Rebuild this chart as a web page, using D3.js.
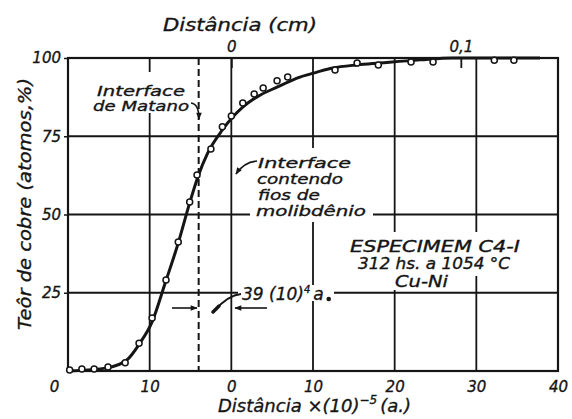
<!DOCTYPE html>
<html>
<head>
<meta charset="utf-8">
<script src="https://cdn.jsdelivr.net/npm/d3@7"></script>
<style>
  body { margin: 0; background: #fff; }
  text { font-family: "DejaVu Sans", sans-serif; font-style: italic; fill: #151515; stroke: #151515; stroke-width: 0.35px; }
</style>
</head>
<body>
<div id="chart"></div>
<script>
// data
var pointX = [-19.8, -18.3, -16.8, -15.1, -13.0, -11.3, -9.7, -8.0, -6.5, -5.1, -4.2, -2.5, -1.1, 0.0, 1.4, 2.8, 3.9, 5.6, 6.9, 12.7, 15.4, 18.0, 22.0, 24.7, 32.2, 34.6];
var pointY = [0.3, 0.6, 0.6, 1.3, 2.6, 8.9, 16.9, 29.1, 41.2, 54.0, 62.6, 70.9, 78.0, 81.5, 85.6, 88.5, 90.4, 92.7, 93.9, 96.2, 98.4, 97.8, 98.7, 98.7, 99.3, 99.3];
var curveX = [-19.8, -15.2, -12.8, -11.2, -9.7, -8.1, -6.5, -5.1, -4.1, -2.9, -1.1, 0.2, 1.4, 3.1, 5.6, 8.4, 10.5, 12.4, 15.4, 18.2, 23.1, 27.1, 37.8];
var curveY = [0, 1.0, 3.5, 8.9, 15.7, 28.1, 40.9, 53.7, 62.0, 69.6, 77.0, 81.2, 84.3, 87.5, 90.7, 93.9, 95.5, 96.8, 97.8, 98.4, 99.4, 100, 100];

var xTicks = [-20, -10, 0, 10, 20, 30, 40];
var xTickLabels = ["0", "10", "0", "10", "20", "30", "40"];
var yTicks = [25, 50, 75, 100];
var yTickLabels = ["25", "50", "75", "100"];
var topTicks = [0, 0.1];
var topTickLabels = ["0", "0,1"];
var xGrid = [-10, 0, 10, 20, 30];
var yGrid = [25, 50, 75];
var matanoX = -4.0;
var cmAtTenth = 28.1; // where 0,1 cm falls on the lower scale

var svgWidth = 572;
var svgHeight = 419;
var margin = { top: 58, right: 14, bottom: 48, left: 68 };
var width = svgWidth - margin.left - margin.right;
var height = svgHeight - margin.top - margin.bottom;
var ink = "#151515";

var svg = d3.select("#chart").append("svg")
  .attr("width", svgWidth)
  .attr("height", svgHeight);

svg.append("rect").attr("width", svgWidth).attr("height", svgHeight).attr("fill", "#fff");

var defs = svg.append("defs");
defs.append("marker")
  .attr("id", "head")
  .attr("viewBox", "0 0 10 10")
  .attr("refX", 9).attr("refY", 5)
  .attr("markerWidth", 9).attr("markerHeight", 7)
  .attr("markerUnits", "userSpaceOnUse")
  .attr("orient", "auto")
  .append("path").attr("d", "M0,1 L10,5 L0,9 Z").attr("fill", ink);

var chartGroup = svg.append("g")
  .attr("transform", `translate(${margin.left}, ${margin.top})`);

var xScale = d3.scaleLinear().domain([-20, 40]).range([0, width]);
var yScale = d3.scaleLinear().domain([0, 100]).range([height, 0]);
var topScale = d3.scaleLinear().domain([0, 0.1]).range([xScale(0), xScale(cmAtTenth)]);

// grid
chartGroup.selectAll(".vgrid")
  .data(xGrid)
  .enter()
  .append("line")
  .attr("x1", d => xScale(d)).attr("x2", d => xScale(d))
  .attr("y1", 0).attr("y2", height)
  .attr("stroke", ink).attr("stroke-width", 1.8);

chartGroup.selectAll(".hgrid")
  .data(yGrid)
  .enter()
  .append("line")
  .attr("x1", 0).attr("x2", width)
  .attr("y1", d => yScale(d)).attr("y2", d => yScale(d))
  .attr("stroke", ink).attr("stroke-width", 1.8);

// white patches where the lettering breaks the grid (page coords)
var gaps = [
  [92, 72, 98, 41],
  [250, 148, 123, 74],
  [345, 232, 180, 44],
  [385, 276, 70, 14],
  [238, 285, 96, 16]
];
svg.selectAll(".gap")
  .data(gaps)
  .enter()
  .append("rect")
  .attr("x", d => d[0]).attr("y", d => d[1])
  .attr("width", d => d[2]).attr("height", d => d[3])
  .attr("fill", "#fff");

// Matano plane
chartGroup.append("line")
  .attr("x1", xScale(matanoX)).attr("x2", xScale(matanoX))
  .attr("y1", 0).attr("y2", height)
  .attr("stroke", ink).attr("stroke-width", 2)
  .attr("stroke-dasharray", "7,4");

// frame
chartGroup.append("rect")
  .attr("width", width).attr("height", height)
  .attr("fill", "none").attr("stroke", ink).attr("stroke-width", 2.2);

// axes
var bottomAxis = d3.axisBottom(xScale)
  .tickValues(xTicks)
  .tickFormat((d, i) => xTickLabels[i])
  .tickSize(0).tickPadding(10);
var xAxisG = chartGroup.append("g")
  .attr("transform", `translate(0, ${height})`)
  .call(bottomAxis);
xAxisG.select(".domain").remove();
xAxisG.selectAll("text")
  .style("font-size", "15px").style("font-family", "DejaVu Sans").style("font-style", "italic")
  .attr("fill", ink)
  .attr("dx", (d, i) => i === 0 ? -14 : 0);

var leftAxis = d3.axisLeft(yScale)
  .tickValues(yTicks)
  .tickFormat((d, i) => yTickLabels[i])
  .tickSize(4).tickPadding(3);
var yAxisG = chartGroup.append("g").call(leftAxis);
yAxisG.select(".domain").remove();
yAxisG.selectAll("line").attr("stroke", ink).attr("stroke-width", 1.5);
yAxisG.selectAll("text")
  .style("font-size", "15px").style("font-family", "DejaVu Sans").style("font-style", "italic")
  .attr("fill", ink);

var topAxis = d3.axisTop(topScale)
  .tickValues(topTicks)
  .tickFormat((d, i) => topTickLabels[i])
  .tickSize(-10).tickPadding(6);
var topG = chartGroup.append("g").call(topAxis);
topG.select(".domain").remove();
topG.selectAll("line").attr("stroke", ink).attr("stroke-width", 1.8);
topG.selectAll("text")
  .style("font-size", "15px").style("font-family", "DejaVu Sans").style("font-style", "italic")
  .attr("fill", ink);

// curve + points
var curveData = curveX.map((d, i) => ({ x: d, y: curveY[i] }));
var pointData = pointX.map((d, i) => ({ x: d, y: pointY[i] }));

var line = d3.line()
  .x(d => xScale(d.x))
  .y(d => yScale(d.y))
  .curve(d3.curveMonotoneX);

chartGroup.append("path")
  .datum(curveData)
  .attr("d", line)
  .attr("fill", "none")
  .attr("stroke", ink)
  .attr("stroke-width", 3);

chartGroup.selectAll("circle")
  .data(pointData)
  .enter()
  .append("circle")
  .attr("cx", d => xScale(d.x))
  .attr("cy", d => yScale(d.y))
  .attr("r", 3)
  .attr("fill", "#fff")
  .attr("stroke", ink)
  .attr("stroke-width", 1.5);

// lettering
function label(x, y, str, size, len) {
  var t = svg.append("text")
    .attr("x", x).attr("y", y)
    .style("font-size", size + "px")
    .text(str);
  if (len) t.attr("textLength", len).attr("lengthAdjust", "spacingAndGlyphs");
  return t;
}

label(163, 31, "Distância (cm)", 18, 154);

svg.append("text")
  .attr("transform", "translate(31, 330) rotate(-90)")
  .attr("textLength", 252).attr("lengthAdjust", "spacingAndGlyphs")
  .style("font-size", "18px")
  .text("Teôr de cobre (atomos,%)");

var xLabel = svg.append("text")
  .attr("x", 218).attr("y", 412)
  .style("font-size", "18px");
xLabel.append("tspan").text("Distância ×(10)");
xLabel.append("tspan").attr("dy", -8).style("font-size", "12px").text("−5");
xLabel.append("tspan").attr("dy", 8).attr("dx", 3).text("(a.)");

label(97, 96, "Interface", 14, 88);
label(93, 111, "de Matano", 14, 96);

label(258, 168, "Interface", 14, 93);
label(257, 184, "contendo", 14, 86);
label(258, 200, "fios de", 14, 62);
label(256, 216, "molibdênio", 14, 110);

label(350, 252, "ESPECIMEM C4-I", 15, 170);
label(358, 269, "312 hs. a 1054 °C", 15, 152);
label(395, 287, "Cu-Ni", 15, 53);

var dim = svg.append("text")
  .attr("x", 242).attr("y", 300)
  .style("font-size", "17px");
dim.append("tspan").text("39 (10)");
dim.append("tspan").attr("dy", -7).style("font-size", "10px").text("4");
dim.append("tspan").attr("dy", 7).attr("dx", 3).text("a");
var dimEnd = 242 + dim.node().getComputedTextLength() + 8;
svg.append("circle").attr("cx", dimEnd).attr("cy", 299).attr("r", 2.3).attr("fill", ink);

// leaders and arrows
svg.append("path")
  .attr("d", "M191,103 Q199,104 199,119")
  .attr("fill", "none").attr("stroke", ink).attr("stroke-width", 1.6)
  .attr("marker-end", "url(#head)");

svg.append("path")
  .attr("d", "M257,161 Q244,162 236,174")
  .attr("fill", "none").attr("stroke", ink).attr("stroke-width", 1.6)
  .attr("marker-end", "url(#head)");

svg.append("path")
  .attr("d", "M241,294 C231,295 222,302 214,311")
  .attr("fill", "none").attr("stroke", ink).attr("stroke-width", 1.8);
svg.append("line")
  .attr("x1", 219).attr("y1", 306).attr("x2", 213).attr("y2", 312)
  .attr("stroke", ink).attr("stroke-width", 3.5).attr("stroke-linecap", "round");

svg.append("line")
  .attr("x1", 172).attr("y1", 308).attr("x2", 197).attr("y2", 308)
  .attr("stroke", ink).attr("stroke-width", 1.6)
  .attr("marker-end", "url(#head)");
svg.append("line")
  .attr("x1", 267).attr("y1", 308).attr("x2", 235).attr("y2", 308)
  .attr("stroke", ink).attr("stroke-width", 1.6)
  .attr("marker-end", "url(#head)");
</script>
</body>
</html>
